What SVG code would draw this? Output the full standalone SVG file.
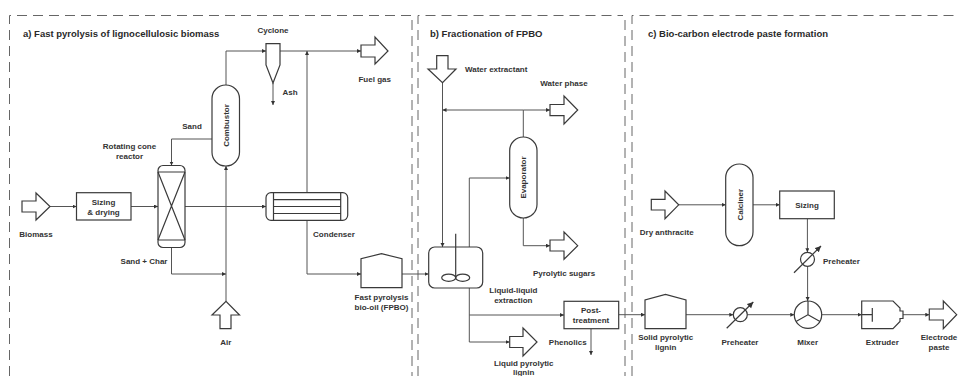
<svg xmlns="http://www.w3.org/2000/svg" width="958" height="376" viewBox="0 0 958 376">
<style>
text{font-family:"Liberation Sans",Arial,sans-serif;font-size:8px;font-weight:700;fill:#333;text-anchor:middle}
.h{font-size:9.5px;text-anchor:start;fill:#2a2a2a}
.s{fill:#fff;stroke:#3a3a3a;stroke-width:1.2}
.n{fill:none;stroke:#3a3a3a;stroke-width:1.2}
.c{fill:none;stroke:#555;stroke-width:1}
.a{marker-end:url(#m)}
.d{fill:none;stroke:#555;stroke-width:.9;stroke-dasharray:10 6}
</style>
<defs>
<marker id="m" markerUnits="userSpaceOnUse" markerWidth="5" markerHeight="5" refX="4" refY="2" orient="auto"><path d="M0 0L4 2L0 4Z" fill="#333"/></marker>
<marker id="k" markerUnits="userSpaceOnUse" markerWidth="7" markerHeight="7" refX="6" refY="3" orient="auto"><path d="M0 0L6 3L0 6Z" fill="#333"/></marker>
</defs>
<rect width="958" height="376" fill="#fff"/>
<g id="frames">
<path class="d" d="M9.5 376V15.5H411M412 20V376"/>
<path class="d" d="M418 376V15.5H623M625 20V376"/>
<path class="d" d="M632 376V15.5H958"/>
</g>
<g id="connectors">
<path class="c a" d="M226 85V51H266"/>
<path class="c a" d="M280 51H361"/>
<path class="c a" d="M273 83V105"/>
<path class="c a" d="M307 192.5V51"/>
<path class="c a" d="M212 139H171.5V165.5"/>
<path class="c a" d="M50 206.5H76.5"/>
<path class="c a" d="M131 206.5H158"/>
<path class="c a" d="M185 206.5H266"/>
<path class="c a" d="M307 220.5V274H361"/>
<path class="c a" d="M171.5 248V274H226"/>
<path class="c a" d="M226 301V166"/>
<path class="c a" d="M402 274H428.5"/>
<path class="c a" d="M442.5 83V247"/>
<path class="c a" d="M523.3 110H442.5"/>
<path class="c a" d="M523.3 110H550"/>
<path class="c" d="M523.3 110V137"/>
<path class="c a" d="M469.3 247V178H509.7"/>
<path class="c a" d="M523.3 218V245.7H550"/>
<path class="c a" d="M469.3 288V342H509.7"/>
<path class="c a" d="M469.3 315H564"/>
<path class="c a" d="M591 328.7V355"/>
<path class="c a" d="M618.7 314.7H645"/>
<path class="c a" d="M686 314.7H733.3"/>
<path class="c a" d="M747.3 314.7H794.3"/>
<path class="c a" d="M821.7 314.7H861.7"/>
<path class="c a" d="M903 314.7H929.3"/>
<path class="c a" d="M678.7 204.8H725.7"/>
<path class="c a" d="M753 204.8H779.7"/>
<path class="c a" d="M807.4 218.7V252.3"/>
<path class="c a" d="M807.6 266.3V301"/>
</g>
<g id="cyclone"><path class="s" d="M266 43.7H280V65L273 83L266 65Z"/><text x="273" y="33">Cyclone</text></g>
<g id="fuel-gas"><path class="s" d="M361 45H375V37L388 51L375 64V57H361Z"/><text x="374.7" y="81.5">Fuel gas</text></g>
<g id="ash"><text x="290" y="94.5">Ash</text></g>
<g id="combustor"><rect class="s" x="212" y="85" width="27.5" height="81" rx="13.7"/><text transform="translate(229 125.5) rotate(-90)">Combustor</text></g>
<g id="sand"><text x="192" y="128.5">Sand</text></g>
<g id="reactor"><rect class="s" x="158" y="165.5" width="27" height="82" rx="5"/><path class="n" d="M158 172H185M158 240H185M158 240L185 172M158 172L185 240"/><text x="129.5" y="149">Rotating cone</text><text x="129.5" y="158.5">reactor</text></g>
<g id="biomass"><path class="s" d="M22 201H36V193L50 206.5L36 220V212H22Z"/><text x="36" y="236.5">Biomass</text></g>
<g id="sizing-drying"><rect class="s" x="76.5" y="192.7" width="54.5" height="27.3"/><text x="103.5" y="205">Sizing</text><text x="103.5" y="215.2">&amp; drying</text></g>
<g id="condenser"><rect class="s" x="266" y="192.7" width="81.7" height="27.6" rx="5"/><path class="n" d="M273.5 192.7V220.3M340.7 192.7V220.3M273.5 199.7H340.7M273.5 206.5H340.7M273.5 213.5H340.7"/><text x="334" y="236.5">Condenser</text></g>
<g id="sand-char"><text x="144" y="263.5">Sand + Char</text></g>
<g id="fpbo"><path class="s" d="M361 287.7V258.7L381.5 253.7L402 258.7V287.7Z"/><text x="381.5" y="299.5">Fast pyrolysis</text><text x="381.5" y="309.5">bio-oil (FPBO)</text></g>
<g id="air"><path class="s" d="M220 328.7V315H212L226 301.3L239.5 315H231V328.7Z"/><text x="225.7" y="345">Air</text></g>
<text class="h" x="23" y="37">a) Fast pyrolysis of lignocellulosic biomass</text>
<text class="h" x="430" y="37">b) Fractionation of FPBO</text>
<text class="h" x="648" y="37">c) Bio-carbon electrode paste formation</text>
<g id="water-extractant"><path class="s" d="M436.7 55.7H448V69H456L442.5 82.7L428 69H436.7Z"/><text x="465" y="72" style="text-anchor:start">Water extractant</text></g>
<g id="water-phase"><path class="s" d="M550 104.5H564V96L577.7 110L564 124V115.7H550Z"/><text x="564" y="86">Water phase</text></g>
<g id="evaporator"><rect class="s" x="509.7" y="137" width="27.3" height="81" rx="13.6"/><text transform="translate(526 177.5) rotate(-90)">Evaporator</text></g>
<g id="pyrolytic-sugars"><path class="s" d="M550 240H564V232L577.7 245.7L564 259.3V251H550Z"/><text x="564" y="275.5">Pyrolytic sugars</text></g>
<g id="extraction"><rect class="s" x="428.7" y="247" width="54" height="41" rx="6"/><path class="n" d="M455.7 233.7V277.7"/><ellipse class="n" cx="448.7" cy="277.7" rx="7" ry="3.6"/><ellipse class="n" cx="462.7" cy="277.7" rx="7" ry="3.6"/><text x="513.3" y="293">Liquid-liquid</text><text x="513.3" y="302.5">extraction</text></g>
<g id="liquid-lignin"><path class="s" d="M509.7 336.5H523V328L537 342L523 356V347.5H509.7Z"/><text x="523.7" y="366">Liquid pyrolytic</text><text x="523.7" y="374.5">lignin</text></g>
<g id="post-treatment"><rect class="s" x="564" y="301.3" width="54.7" height="27.4"/><text x="591" y="313">Post-</text><text x="591" y="323">treatment</text></g>
<g id="phenolics"><text x="567.7" y="345">Phenolics</text></g>
<g id="dry-anthracite"><path class="s" d="M651.3 199.3H665V191L678.7 204.8L665 218.7V210H651.3Z"/><text x="666.7" y="235">Dry anthracite</text></g>
<g id="calciner"><rect class="s" x="725.7" y="164" width="27.3" height="81.7" rx="13.6"/><text transform="translate(742.5 204.8) rotate(-90)">Calciner</text></g>
<g id="sizing"><rect class="s" x="779.7" y="191" width="54.6" height="27.7"/><text x="807" y="208">Sizing</text></g>
<g id="preheater-1"><circle class="s" cx="807.5" cy="259.3" r="7"/><path class="n" d="M794 272.7L821 246" marker-end="url(#k)"/><text x="823" y="263.5" style="text-anchor:start">Preheater</text></g>
<g id="solid-lignin"><path class="s" d="M645 328.7V300L665.5 294.3L686 300V328.7Z"/><text x="665.7" y="340">Solid pyrolytic</text><text x="665.7" y="350">lignin</text></g>
<g id="preheater-2"><circle class="s" cx="740.3" cy="314.7" r="7"/><path class="n" d="M726.7 328.3L753.3 302" marker-end="url(#k)"/><text x="740" y="345">Preheater</text></g>
<g id="mixer"><circle class="s" cx="808" cy="314.7" r="13.7"/><path class="n" d="M808 301V314.7L796 321.5M808 314.7L820 321.5"/><text x="807.7" y="345">Mixer</text></g>
<g id="extruder"><path class="s" d="M861.7 301H893L900 308V311H903V318.5H900V321.5L893 328.7H861.7Z"/><path class="n" d="M861.7 314.7H872.3M872.3 308V321.7"/><text x="882.3" y="345">Extruder</text></g>
<g id="electrode-paste"><path class="s" d="M929.3 309H943.3V301L956.7 314.7L943.3 328.7V320H929.3Z"/><text x="939" y="340">Electrode</text><text x="939" y="350">paste</text></g>
</svg>
